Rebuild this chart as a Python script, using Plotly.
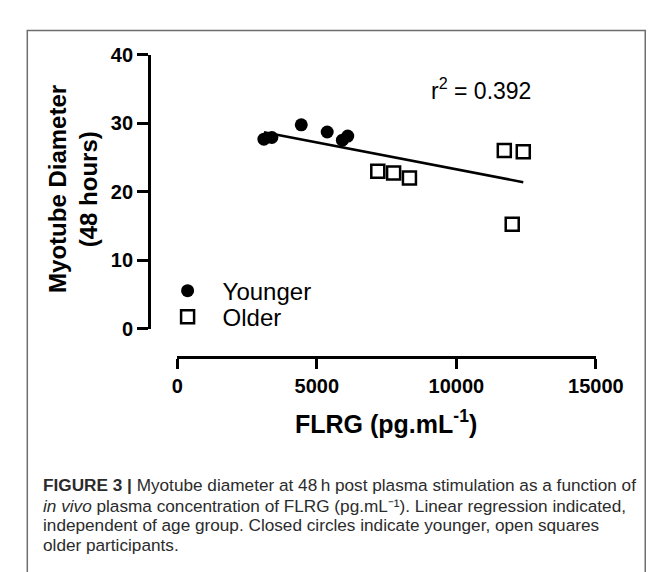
import numpy as np
import plotly.graph_objects as go

# ---- data ----
young_flrg = [3105, 3389, 4443, 5372, 5916, 6109]
young_diam = [27.65, 27.9, 29.75, 28.7, 27.5, 28.1]
old_flrg = [7185, 7752, 8319, 11718, 12398, 12002]
old_diam = [22.97, 22.7, 22.0, 26.0, 25.8, 15.25]
x_ticks = [0, 5000, 10000, 15000]
x_tick_labels = ["0", "5000", "10000", "15000"]
y_ticks = [0, 10, 20, 30, 40]
y_tick_labels = ["0", "10", "20", "30", "40"]
r2_label = "r<sup>2</sup> = 0.392"

W, H = 670, 572
def px(x):
    return x / W
def py(y):
    return 1 - y / H

# linear regression, independent of age group
all_x = np.array(young_flrg + old_flrg, dtype=float)
all_y = np.array(young_diam + old_diam, dtype=float)
slope, intercept = np.polyfit(all_x, all_y, 1)
fit_x = [all_x.min(), all_x.max()]
fit_y = [slope * v + intercept for v in fit_x]

FONT = "Liberation Sans, Arial, sans-serif"

fig = go.Figure()
fig.add_trace(go.Scatter(
    x=fit_x, y=fit_y, mode="lines", line=dict(color="black", width=2.5),
    showlegend=False, hoverinfo="skip"))
fig.add_trace(go.Scatter(
    x=young_flrg, y=young_diam, mode="markers", name="Younger",
    marker=dict(symbol="circle", size=13, color="black"),
    cliponaxis=False, legend="legend"))
fig.add_trace(go.Scatter(
    x=old_flrg, y=old_diam, mode="markers", name="Older",
    marker=dict(symbol="square-open", size=13, color="black",
                line=dict(width=2.5, color="black")),
    cliponaxis=False, legend="legend2"))

axis_common = dict(
    showgrid=False, zeroline=False, showline=True, linecolor="black",
    linewidth=2.5, ticks="outside", tickcolor="black", tickwidth=2.5,
    anchor="free", tickmode="array",
    tickfont=dict(family=FONT, size=20, color="black", weight="bold"))

legend_common = dict(
    xanchor="left", yanchor="middle", itemwidth=60,
    font=dict(family=FONT, size=24, color="black"),
    bgcolor="rgba(0,0,0,0)", borderwidth=0)

fig.update_layout(
    width=W, height=H, margin=dict(l=0, r=0, t=0, b=0),
    paper_bgcolor="white", plot_bgcolor="white",
    xaxis=dict(axis_common, domain=[px(172), px(613)], range=[0, 15000],
               position=py(352), ticklen=10,
               tickvals=x_ticks, ticktext=x_tick_labels),
    yaxis=dict(axis_common, domain=[py(322), py(37)], range=[0, 40],
               position=px(142), ticklen=11,
               tickvals=y_ticks, ticktext=y_tick_labels),
    legend=dict(legend_common, x=px(146), y=py(283)),
    legend2=dict(legend_common, x=px(146), y=py(310)),
    showlegend=True,
)

annotations = [
    dict(text=r2_label, x=px(492), y=py(73), xref="paper", yref="paper",
         xanchor="center", yanchor="middle", showarrow=False,
         font=dict(family=FONT, size=23, color="black")),
    dict(text="Myotube Diameter", x=px(45), y=py(177), xref="paper", yref="paper",
         xanchor="center", yanchor="middle", textangle=-90, showarrow=False,
         font=dict(family=FONT, size=24, color="black", weight="bold")),
    dict(text="(48 hours)", x=px(78), y=py(177), xref="paper", yref="paper",
         xanchor="center", yanchor="middle", textangle=-90, showarrow=False,
         font=dict(family=FONT, size=24, color="black", weight="bold")),
    dict(text="FLRG (pg.mL<sup>-1</sup>)", x=px(392), y=py(419), xref="paper", yref="paper",
         xanchor="center", yanchor="middle", showarrow=False,
         font=dict(family=FONT, size=25, color="black", weight="bold")),
]

caption_lines = [
    "<b>FIGURE 3 |</b> Myotube diameter at 48\u2009h post plasma stimulation as a function of",
    "<i>in vivo</i> plasma concentration of FLRG (pg.mL\u207b\u00b9). Linear regression indicated,",
    "independent of age group. Closed circles indicate younger, open squares",
    "older participants.",
]
caption_y = [485, 506, 526, 547]
for line, yy in zip(caption_lines, caption_y):
    annotations.append(dict(
        text=line, x=px(28), y=py(yy), xref="paper", yref="paper",
        xanchor="left", yanchor="middle", showarrow=False,
        font=dict(family=FONT, size=17.2, color="#2b2b2b")))

fig.update_layout(annotations=annotations)

fig.add_shape(type="rect", xref="paper", yref="paper",
              x0=px(14), x1=px(665), y0=-0.05, y1=py(12),
              line=dict(color="#6e6e6e", width=1.5), fillcolor="rgba(0,0,0,0)",
              layer="below")

fig.write_html("out.html")
